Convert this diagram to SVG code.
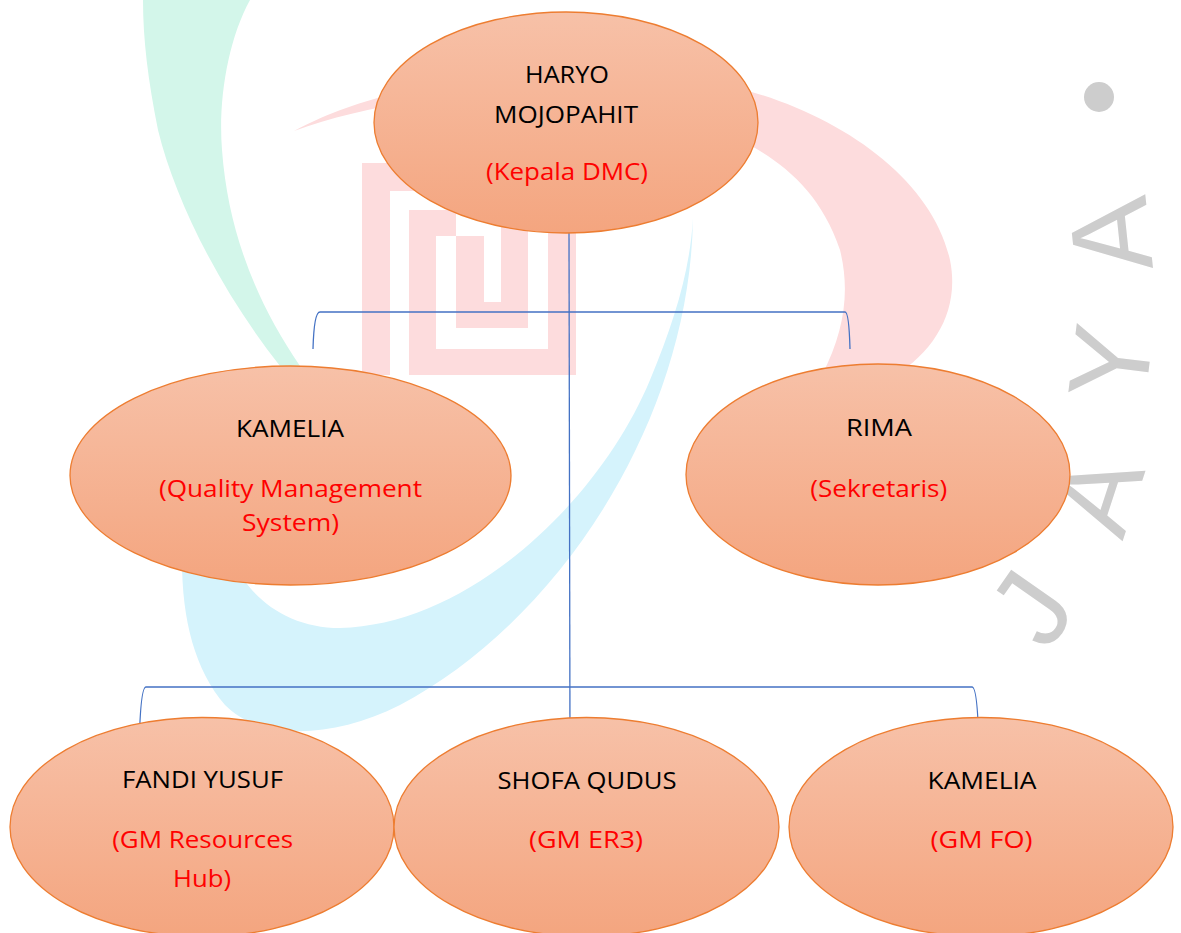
<svg xmlns="http://www.w3.org/2000/svg" width="1181" height="933" viewBox="0 0 1181 933">
<defs>
<linearGradient id="nodeFill" x1="0" y1="0" x2="0" y2="1">
<stop offset="0" stop-color="#F7C1A8"/>
<stop offset="1" stop-color="#F4A57F"/>
</linearGradient>
<style>
.node ellipse{fill:url(#nodeFill);stroke:#ED7D31;stroke-width:1.3}
.name{font-family:"Open Sans","Liberation Sans",sans-serif;font-size:24px;fill:#000000;text-anchor:middle}
.role{font-family:"Open Sans","Liberation Sans",sans-serif;font-size:24px;fill:#FF0000;text-anchor:middle}
.conn path{fill:none;stroke:#4472C4;stroke-width:1.3}
.wm-green{fill:#D3F6EA}
.wm-cyan{fill:#D5F3FC}
.wm-pink{fill:#FDDCDD}
.wm-letter{font-family:"Liberation Sans",sans-serif;font-size:112px;fill:#CDCDCD;text-anchor:middle}
</style>
</defs>
<rect x="0" y="0" width="1181" height="933" fill="#FFFFFF"/>
<g id="watermark">
<path class="wm-green" d="M143,0 L250,0 C228,40 218,100 222,150 C228,230 255,300 300,366 L280,366 C220,290 175,200 158,130 C148,80 143,40 143,0 Z"/>
<path class="wm-pink" d="M294,131 C330,112 360,102 400,92 L700,80 C820,100 930,170 950,260 C960,310 935,350 896,375 L822,375 C845,330 850,290 840,250 C820,190 780,160 740,140 L420,100 C370,108 330,118 294,131 Z"/>
<path class="wm-cyan" d="M693,218 C690,420 560,620 400,705 C330,740 260,740 225,705 C195,670 182,620 182,560 L182,470 L232,470 L233,560 C250,600 290,628 340,628 C470,625 600,500 650,380 C675,320 690,270 693,218 Z"/>
<g class="wm-pink">
<rect x="362" y="163" width="28" height="212"/>
<rect x="362" y="163" width="100" height="28"/>
<rect x="409" y="210" width="47" height="26"/>
<rect x="409" y="210" width="27" height="165"/>
<rect x="409" y="349" width="167" height="26"/>
<rect x="548" y="200" width="28" height="175"/>
<rect x="456" y="236" width="28" height="92"/>
<rect x="456" y="302" width="72" height="26"/>
<rect x="501" y="200" width="27" height="128"/>
</g>
<text class="wm-letter" transform="translate(1149,231) rotate(-96)">A</text>
<text class="wm-letter" transform="translate(1149,367) rotate(-83)">Y</text>
<text class="wm-letter" transform="translate(1134,506) rotate(-72)">A</text>
<text class="wm-letter" transform="translate(1063,630) rotate(-55)">J</text>
<circle cx="1099" cy="97" r="15" fill="#CDCDCD"/>
</g>
<g id="connectors" class="conn">
<path d="M569,233 L570,745"/>
<path d="M313,349 Q314,312 320,312 L845,312 Q849,312 850,349"/>
<path d="M139,755 Q140,687 146,687 L972,687 Q978,687 979,755"/>
</g>
<g id="node-haryo" class="node">
<ellipse cx="566" cy="122.5" rx="192" ry="110.5"/>
<text class="name" x="567" y="83" textLength="84" lengthAdjust="spacingAndGlyphs">HARYO</text>
<text class="name" x="566" y="122.5" textLength="144" lengthAdjust="spacingAndGlyphs">MOJOPAHIT</text>
<text class="role" x="567" y="180" textLength="162" lengthAdjust="spacingAndGlyphs">(Kepala DMC)</text>
</g>
<g id="node-kamelia-qms" class="node">
<ellipse cx="290.5" cy="475.5" rx="220.5" ry="109.5"/>
<text class="name" x="290" y="436.5" textLength="108" lengthAdjust="spacingAndGlyphs">KAMELIA</text>
<text class="role" x="290.5" y="497" textLength="263" lengthAdjust="spacingAndGlyphs">(Quality Management</text>
<text class="role" x="290.5" y="531" textLength="97" lengthAdjust="spacingAndGlyphs">System)</text>
</g>
<g id="node-rima" class="node">
<ellipse cx="878" cy="474.5" rx="192" ry="110.5"/>
<text class="name" x="879" y="436" textLength="66" lengthAdjust="spacingAndGlyphs">RIMA</text>
<text class="role" x="878.7" y="497" textLength="137" lengthAdjust="spacingAndGlyphs">(Sekretaris)</text>
</g>
<g id="node-fandi" class="node">
<ellipse cx="202" cy="827" rx="192" ry="109.5"/>
<text class="name" x="202.5" y="788" textLength="161" lengthAdjust="spacingAndGlyphs">FANDI YUSUF</text>
<text class="role" x="202.7" y="848" textLength="181" lengthAdjust="spacingAndGlyphs">(GM Resources</text>
<text class="role" x="202" y="887" textLength="58" lengthAdjust="spacingAndGlyphs">Hub)</text>
</g>
<g id="node-shofa" class="node">
<ellipse cx="586.5" cy="827" rx="192.5" ry="109.5"/>
<text class="name" x="587" y="789" textLength="179" lengthAdjust="spacingAndGlyphs">SHOFA QUDUS</text>
<text class="role" x="586" y="848" textLength="114" lengthAdjust="spacingAndGlyphs">(GM ER3)</text>
</g>
<g id="node-kamelia-fo" class="node">
<ellipse cx="981" cy="827" rx="192" ry="109.5"/>
<text class="name" x="982" y="789" textLength="109" lengthAdjust="spacingAndGlyphs">KAMELIA</text>
<text class="role" x="981.5" y="848" textLength="102" lengthAdjust="spacingAndGlyphs">(GM FO)</text>
</g>
</svg>
